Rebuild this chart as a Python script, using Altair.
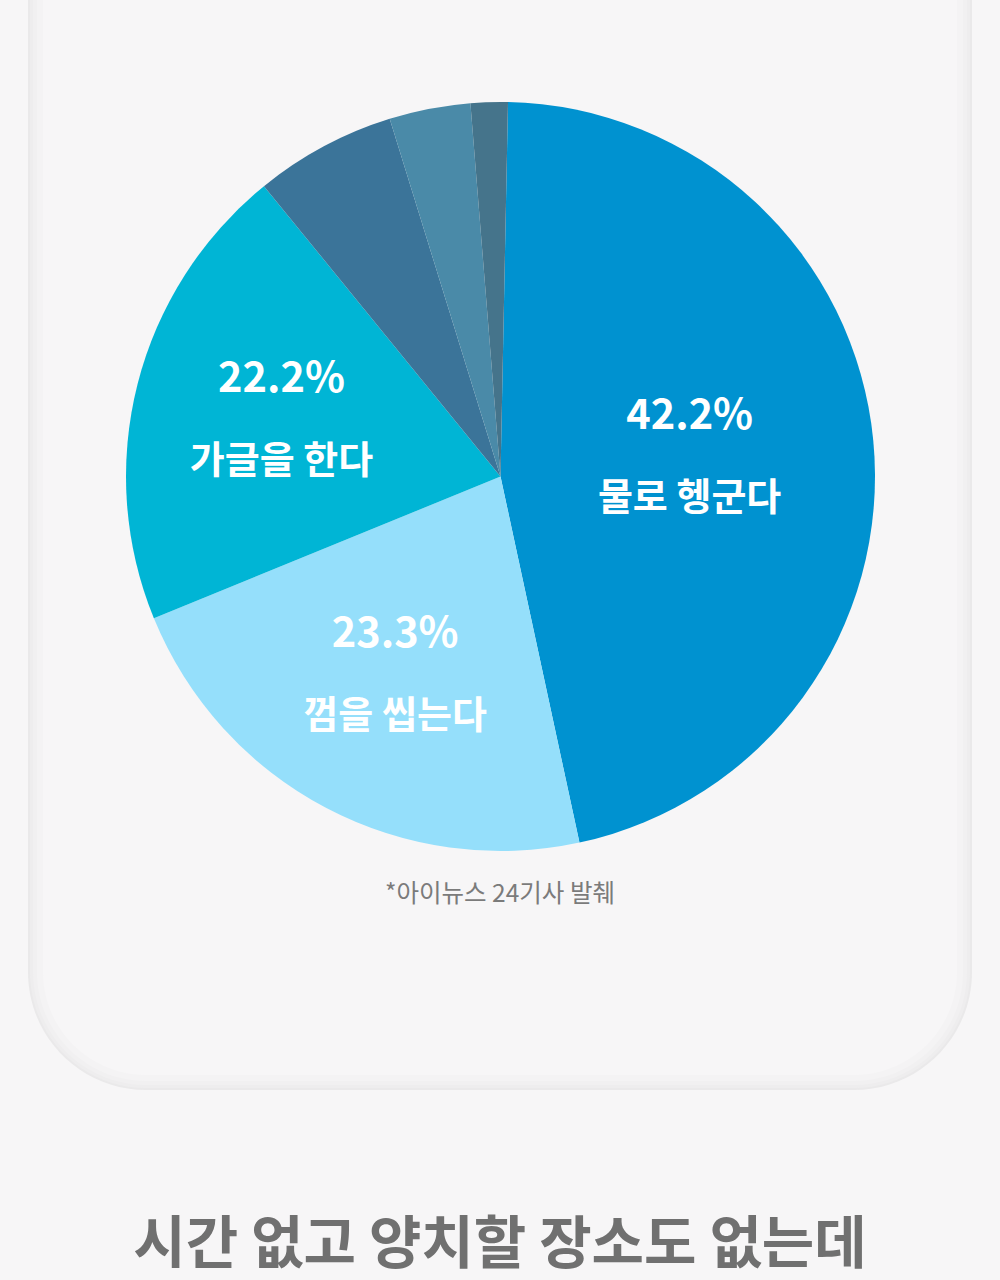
import math
import altair as alt
import pandas as pd

# ---- data ----
categories = ["물로 헹군다", "껌을 씹는다", "가글을 한다", "기타 1", "기타 2", "기타 3"]
pct_labels = ["42.2%", "23.3%", "22.2%", "", "", ""]
name_labels = ["물로 헹군다", "껌을 씹는다", "가글을 한다", "", "", ""]
# slice sizes as drawn in the picture (percent of the circle)
drawn_share = [46.3, 22.2, 20.3, 6.1, 3.5, 1.6]
colors = ["#0092d0", "#95dffb", "#00b5d5", "#3b7499", "#4a8aa8", "#45748b"]
footnote = "*아이뉴스 24기사 발췌"
headline = "시간 없고 양치할 장소도 없는데"

df = pd.DataFrame({
    "order": list(range(len(categories))),
    "category": categories,
    "share": drawn_share,
    "pct": pct_labels,
    "name": name_labels,
})

W, H = 1000, 1280
CX, CY, R = 500.5, 476.5, 374.5
START = math.radians(1.15)
FONT = "Noto Sans CJK KR"

theta_scale = alt.Scale(domain=[0, 100], range=[START, START + 2 * math.pi])
color = alt.Color("category:N", scale=alt.Scale(domain=categories, range=colors), legend=None)
order = alt.Order("order:Q", sort="ascending")

one = pd.DataFrame({"a": [0]})

# ---- card with soft edge shading ----
card_layers = []
L, Rr, T, B, CR = 28, 972, -300, 1090, 118
for inset, fill in [(0, "#eae9ea"), (2, "#eeedee"), (5, "#f1f0f1"), (9, "#f4f3f4"), (15, "#f7f6f7")]:
    card_layers.append(
        alt.Chart(one).mark_rect(cornerRadius=CR - inset, fill=fill).encode(
            x=alt.value(L + inset), x2=alt.value(Rr - inset),
            y=alt.value(T), y2=alt.value(B - inset)
        )
    )

base = alt.Chart(df)

arcs = base.mark_arc(radius=R).encode(
    theta=alt.Theta("share:Q", stack=True, scale=theta_scale),
    color=color, order=order,
    x=alt.value(CX), y=alt.value(CY)
)

lab = base.transform_window(
    cum="sum(share)", sort=[alt.SortField("order", order="ascending")]
).transform_calculate(
    mid="datum.cum - datum.share / 2",
    lr="datum.category === '물로 헹군다' ? 190 : 226"
)

pct_text = lab.mark_text(font=FONT, fontSize=41.5, fontWeight="bold", color="white", dy=-41).encode(
    theta=alt.Theta("mid:Q", stack=None, scale=theta_scale),
    radius=alt.Radius("lr:Q", scale=None), text="pct:N",
    x=alt.value(CX), y=alt.value(CY)
)
name_text = lab.mark_text(font=FONT, fontSize=38, fontWeight="bold", color="white", dy=41).encode(
    theta=alt.Theta("mid:Q", stack=None, scale=theta_scale),
    radius=alt.Radius("lr:Q", scale=None), text="name:N",
    x=alt.value(CX), y=alt.value(CY)
)

foot = alt.Chart(one).mark_text(font=FONT, fontSize=24.5, color="#7b7b7b").encode(
    x=alt.value(500), y=alt.value(895), text=alt.value(footnote)
)
head = alt.Chart(one).mark_text(font=FONT, fontSize=57, fontWeight="bold", color="#707070").encode(
    x=alt.value(500), y=alt.value(1246), text=alt.value(headline)
)

chart = alt.layer(*card_layers, arcs, pct_text, name_text, foot, head).properties(
    width=W, height=H, padding=0, autosize=alt.AutoSizeParams(type="none"),
    background="#f7f6f7"
).configure_view(stroke=None)

chart.save("out.html", embed_options={"renderer": "svg", "actions": False})
